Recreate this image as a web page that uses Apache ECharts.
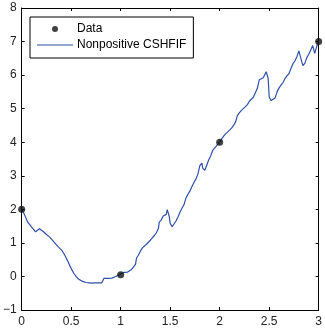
<!DOCTYPE html>
<html>
<head>
<meta charset="utf-8">
<script src="https://cdn.jsdelivr.net/npm/echarts@6/dist/echarts.min.js"></script>
<style>
  html, body { margin: 0; padding: 0; background: #fff; }
  #chart { width: 325px; height: 332px; }
</style>
</head>
<body>
<div id="chart"></div>
<script>
// sample points marked on the curve
const dataX = [0, 1, 2, 3]
const dataY = [2, 0.05, 4, 7]

// the CSHFIF curve
const curveX = [
  0.00, 0.02, 0.04, 0.06, 0.08, 0.10, 0.12, 0.14, 0.16, 0.18, 0.20, 0.22, 0.25, 0.28, 0.31, 0.34,
  0.37, 0.39, 0.41, 0.43, 0.45, 0.47, 0.49, 0.51, 0.53, 0.55, 0.57, 0.59, 0.61, 0.63, 0.65, 0.68,
  0.71, 0.74, 0.77, 0.79, 0.81, 0.82, 0.83, 0.85, 0.87, 0.89, 0.91, 0.93, 0.95, 0.97, 0.99, 1.01,
  1.03, 1.05, 1.07, 1.09, 1.11, 1.13, 1.15, 1.16, 1.18, 1.20, 1.22, 1.24, 1.26, 1.28, 1.30, 1.32,
  1.34, 1.36, 1.38, 1.39, 1.41, 1.43, 1.45, 1.46, 1.47, 1.48, 1.49, 1.50, 1.52, 1.54, 1.56, 1.58,
  1.60, 1.62, 1.64, 1.66, 1.68, 1.70, 1.72, 1.74, 1.76, 1.78, 1.80, 1.82, 1.83, 1.85, 1.87, 1.89,
  1.91, 1.93, 1.95, 1.97, 2.00, 2.02, 2.04, 2.06, 2.08, 2.10, 2.12, 2.14, 2.16, 2.18, 2.20, 2.22,
  2.24, 2.26, 2.28, 2.30, 2.32, 2.34, 2.36, 2.38, 2.40, 2.42, 2.44, 2.46, 2.47, 2.48, 2.49, 2.50,
  2.52, 2.54, 2.56, 2.58, 2.60, 2.62, 2.64, 2.66, 2.68, 2.70, 2.72, 2.74, 2.76, 2.78, 2.80, 2.82,
  2.84, 2.86, 2.88, 2.90, 2.92, 2.94, 2.96, 2.98, 3.00
]
const curveY = [
  2.00, 1.90, 1.76, 1.62, 1.55, 1.47, 1.40, 1.33, 1.30, 1.42, 1.40, 1.33, 1.25, 1.18, 1.08, 0.98,
  0.88, 0.82, 0.76, 0.66, 0.55, 0.43, 0.30, 0.18, 0.08, 0.00, -0.07, -0.11, -0.14, -0.17, -0.18, -0.19,
  -0.20, -0.19, -0.19, -0.17, -0.19, -0.15, -0.06, -0.05, -0.06, -0.04, -0.05, -0.04, 0.00, 0.05, 0.06, 0.10,
  0.12, 0.14, 0.13, 0.17, 0.21, 0.25, 0.36, 0.55, 0.64, 0.76, 0.85, 0.90, 0.96, 1.02, 1.08, 1.15,
  1.22, 1.30, 1.42, 1.62, 1.68, 1.80, 1.82, 1.85, 1.99, 1.94, 1.80, 1.58, 1.48, 1.52, 1.66, 1.78,
  1.92, 2.04, 2.14, 2.34, 2.45, 2.55, 2.68, 2.80, 2.90, 3.05, 3.30, 3.38, 3.22, 3.16, 3.32, 3.48,
  3.60, 3.76, 3.80, 3.90, 4.00, 4.10, 4.18, 4.25, 4.30, 4.36, 4.42, 4.50, 4.60, 4.80, 4.88, 4.95,
  5.00, 5.06, 5.12, 5.22, 5.28, 5.34, 5.38, 5.60, 5.86, 5.90, 5.92, 5.95, 6.10, 6.05, 5.90, 5.35,
  5.24, 5.26, 5.32, 5.50, 5.62, 5.70, 5.78, 5.90, 5.98, 6.04, 6.20, 6.34, 6.42, 6.55, 6.72, 6.70,
  6.28, 6.35, 6.52, 6.62, 6.75, 6.88, 6.65, 6.85, 7.00
]

const font = '"Liberation Sans", Arial, sans-serif'
const chart = echarts.init(document.getElementById('chart'))

const tickStyle = { inside: true, length: 3, lineStyle: { color: '#000' } }
const lineAxis = { lineStyle: { color: '#000', width: 1 }, onZero: false }

chart.setOption({
  animation: false,
  backgroundColor: '#fff',
  textStyle: { fontFamily: font },
  grid: { left: 19, right: 2, top: 8, bottom: 22 },
  legend: {
    orient: 'vertical',
    left: 30,
    top: 17,
    padding: [6, 7, 7, 7],
    itemWidth: 36,
    itemHeight: 6,
    itemGap: 4,
    backgroundColor: '#fff',
    borderColor: '#000',
    borderWidth: 1,
    borderRadius: 0,
    textStyle: { fontFamily: font, fontSize: 12, color: '#000', padding: [0, 0, 0, -1] },
    data: [
      { name: 'Data', icon: 'circle' },
      // plain line sample, no marker
      { name: 'Nonpositive CSHFIF', icon: 'path://M0,0H36V1.2H0Z' }
    ]
  },
  xAxis: [
    {
      type: 'value', min: 0, max: 3, interval: 0.5, position: 'bottom',
      axisLine: lineAxis, axisTick: tickStyle, splitLine: { show: false },
      axisLabel: { fontFamily: font, fontSize: 12, color: '#222', margin: 6 }
    },
    {
      type: 'value', min: 0, max: 3, interval: 0.5, position: 'top',
      axisLine: lineAxis, axisTick: tickStyle, splitLine: { show: false },
      axisLabel: { show: false }
    }
  ],
  yAxis: [
    {
      type: 'value', min: -1, max: 8, interval: 1, position: 'left',
      axisLine: lineAxis, axisTick: tickStyle, splitLine: { show: false },
      axisLabel: {
        fontFamily: font, fontSize: 12, color: '#222', margin: 5,
        formatter: v => String(v).replace('-', '\u2212')
      }
    },
    {
      type: 'value', min: -1, max: 8, interval: 1, position: 'right',
      axisLine: lineAxis, axisTick: tickStyle, splitLine: { show: false },
      axisLabel: { show: false }
    }
  ],
  series: [
    {
      name: 'Data',
      type: 'scatter',
      symbol: 'circle',
      symbolSize: 7,
      z: 5,
      itemStyle: { color: '#111' },
      data: dataX.map((x, i) => [x, dataY[i]])
    },
    {
      name: 'Nonpositive CSHFIF',
      type: 'line',
      symbol: 'none',
      z: 3,
      lineStyle: { color: '#2f4fa8', width: 1.2 },
      itemStyle: { color: '#2f4fa8' },
      data: curveX.map((x, i) => [x, curveY[i]])
    }
  ]
})
</script>
</body>
</html>
